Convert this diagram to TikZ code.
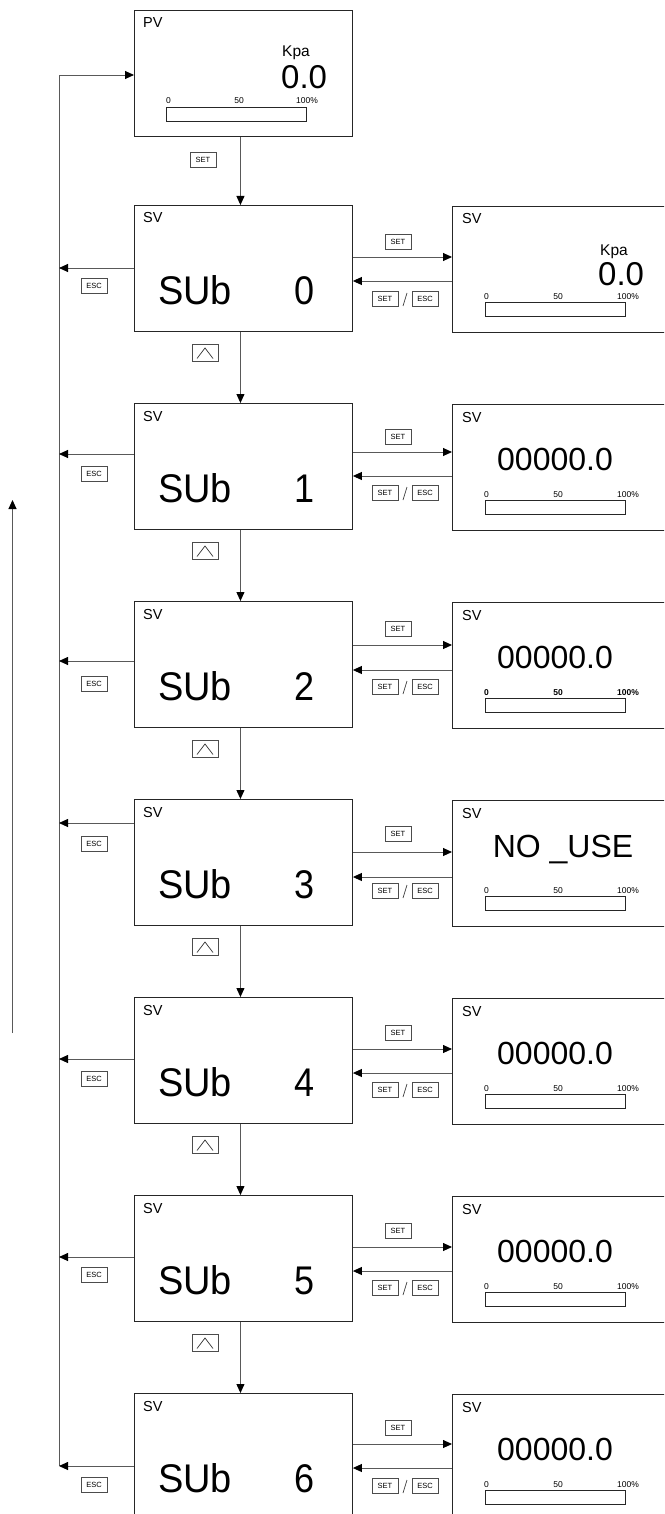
\documentclass[tikz,border=0pt]{standalone}
\usepackage{fontspec}
\setmainfont{Liberation Sans}
\usetikzlibrary{arrows.meta,calc}
\begin{document}
\begin{tikzpicture}[x=1pt,y=-1pt,
  line/.style={draw=black!65, line width=0.9pt},
  arr/.style={line, -{Triangle[length=9pt,width=8pt,color=black]}},
  dispbox/.style={draw=black!85, line width=0.9pt, rectangle, anchor=north west, minimum width=218pt, minimum height=126pt, inner sep=0pt},
  rbox/.style={dispbox, minimum width=260pt},
  barbox/.style={draw=black!85, line width=0.7pt, rectangle, anchor=north west, minimum width=140pt, minimum height=14pt, inner sep=0pt},
  keybox/.style={draw=black!70, line width=0.6pt, inner sep=0pt, minimum width=26pt, minimum height=15pt, font=\fontsize{7.5}{7.5}\selectfont},
  upkey/.style={draw=black!70, line width=0.6pt, inner sep=0pt, minimum width=26pt, minimum height=17pt},
  svlab/.style={anchor=base west, inner sep=0pt, font=\fontsize{14.5}{14.5}\selectfont},
  subtxt/.style={anchor=base west, inner sep=0pt, xscale=0.95, font=\fontsize{40}{40}\selectfont},
  subdig/.style={anchor=base, inner sep=0pt, xscale=0.9, font=\fontsize{40}{40}\selectfont},
  bigval/.style={anchor=base, inner sep=0pt, font=\fontsize{32}{32}\selectfont},
  unitlab/.style={anchor=base west, inner sep=0pt, font=\fontsize{15.5}{15.5}\selectfont},
  tick/.style={anchor=base, inner sep=0pt, font=\fontsize{8.5}{8.5}\selectfont},
  tickw/.style={anchor=base west, inner sep=0pt, font=\fontsize{8.5}{8.5}\selectfont}
]
\useasboundingbox (0,0) rectangle (664,1514);
\clip (0,0) rectangle (664,1514);
\fill[white] (0,0) rectangle (664,1514);

% PV box
\node[dispbox] (pv) at (134,10) {};
\node[svlab] (pvl) at (143,28) {PV};
\node[unitlab] (pvu) at (282,57) {Kpa};
\node[anchor=base west, inner sep=0pt, font=\fontsize{33}{33}\selectfont] (pvv) at (281,89) {0.0};
\node[barbox] (pvbar) at (166,107) {};
\node[tickw] (pvt0) at (166,104) {0};
\node[tick] (pvt50) at (239,104) {50};
\node[tickw] (pvt100) at (296,104) {100\%};

% bus on the left
\coordinate (busT) at (59,75);
\coordinate (busB) at (59,1466);
\draw[line] (busB) -- (busT);
\draw[arr] (busT) -- (busT -| pv.west);

% up arrow on far left
\coordinate (upB) at (12.5,1033);
\coordinate (upT) at (12.5,500);
\draw[arr] (upB) -- (upT);

\foreach \i/\ea/\el/\sl/\sa/\ba/\se in {0/63/81/37/52/76/94, 1/51/71/34/49/73/90, 2/60/83/28/44/69/86, 3/24/45/35/53/78/92, 4/62/82/36/52/76/93, 5/62/80/36/52/76/93, 6/73/92/35/51/75/93}{
  \pgfmathsetmacro\ty{205+198*\i}
  \node[dispbox] (s\i) at (134,\ty) {};
  \node[rbox] (r\i) at (452,\ty+1) {};
  \node[svlab] (sv\i) at (143,\ty+18) {SV};
  \node[svlab] (rsv\i) at (462,\ty+19) {SV};
  \node[subtxt] (sub\i) at (158,\ty+99) {SUb};
  \node[subdig] (d\i) at (305,\ty+99) {\i};
  % ESC arrow to bus
  \coordinate (e\i) at ($(s\i.north west)+(0,\ea)$);
  \draw[arr] (e\i) -- (e\i -| busT);
  \node[keybox] (esc\i) at (94,\ty+\el) {ESC};
  % SET arrow
  \coordinate (a\i) at ($(s\i.north east)+(0,\sa)$);
  \draw[arr] (a\i) -- (a\i -| r\i.west);
  \node[keybox] (set\i) at (398,\ty+\sl) {SET};
  % back arrow
  \coordinate (b\i) at ($(r\i.north west)+(0,\ba-1)$);
  \draw[arr] (b\i) -- (b\i -| s\i.east);
  \node[keybox] (bs\i) at (385,\ty+\se) {SET};
  \node[keybox] (be\i) at (425,\ty+\se) {ESC};
  \draw[black!75, line width=0.7pt] (403,\ty+\se+7) -- (407,\ty+\se-6);
  % bar in right box
  \node[barbox] (bar\i) at (485,\ty+97) {};
}

% bar labels (normal)
\foreach \i in {0,1,3,4,5,6}{
  \pgfmathsetmacro\ty{205+198*\i}
  \node[tickw] (t0\i) at (484,\ty+94) {0};
  \node[tick] (t50\i) at (558,\ty+94) {50};
  \node[tickw] (t100\i) at (617,\ty+94) {100\%};
}
% bold bar labels in row 2
\node[tickw, font=\fontsize{8.5}{8.5}\selectfont\bfseries] (t02) at (484,695) {0};
\node[tick, font=\fontsize{8.5}{8.5}\selectfont\bfseries] (t502) at (558,695) {50};
\node[tickw, font=\fontsize{8.5}{8.5}\selectfont\bfseries] (t1002) at (617,695) {100\%};

% right box values
\node[unitlab] (ru0) at (600,255) {Kpa};
\node[anchor=base west, inner sep=0pt, font=\fontsize{33}{33}\selectfont] (rv0) at (598,285) {0.0};
\foreach \i in {1,2,4,5,6}{
  \pgfmathsetmacro\ty{205+198*\i}
  \node[bigval] (val\i) at (555,\ty+67) {00000.0};
}
\node[bigval] (val3) at (563,857) {NO \_USE};

% down arrows and up-key labels
\draw[arr] ([xshift=-3pt]pv.south) -- ([xshift=-3pt]s0.north);
\node[keybox] (pvset) at (203,159.5) {SET};
\foreach \i/\j in {0/1,1/2,2/3,3/4,4/5,5/6}{
  \pgfmathsetmacro\ty{205+198*\i}
  \draw[arr] ([xshift=-3pt]s\i.south) -- ([xshift=-3pt]s\j.north);
  \node[upkey] (up\i) at (205,\ty+148) {};
  \draw[black!80, line width=0.7pt] ($(up\i.center)+(-8,5.5)$) -- ($(up\i.center)+(0,-5)$) -- ($(up\i.center)+(8,5.5)$);
}
\end{tikzpicture}
\end{document}
